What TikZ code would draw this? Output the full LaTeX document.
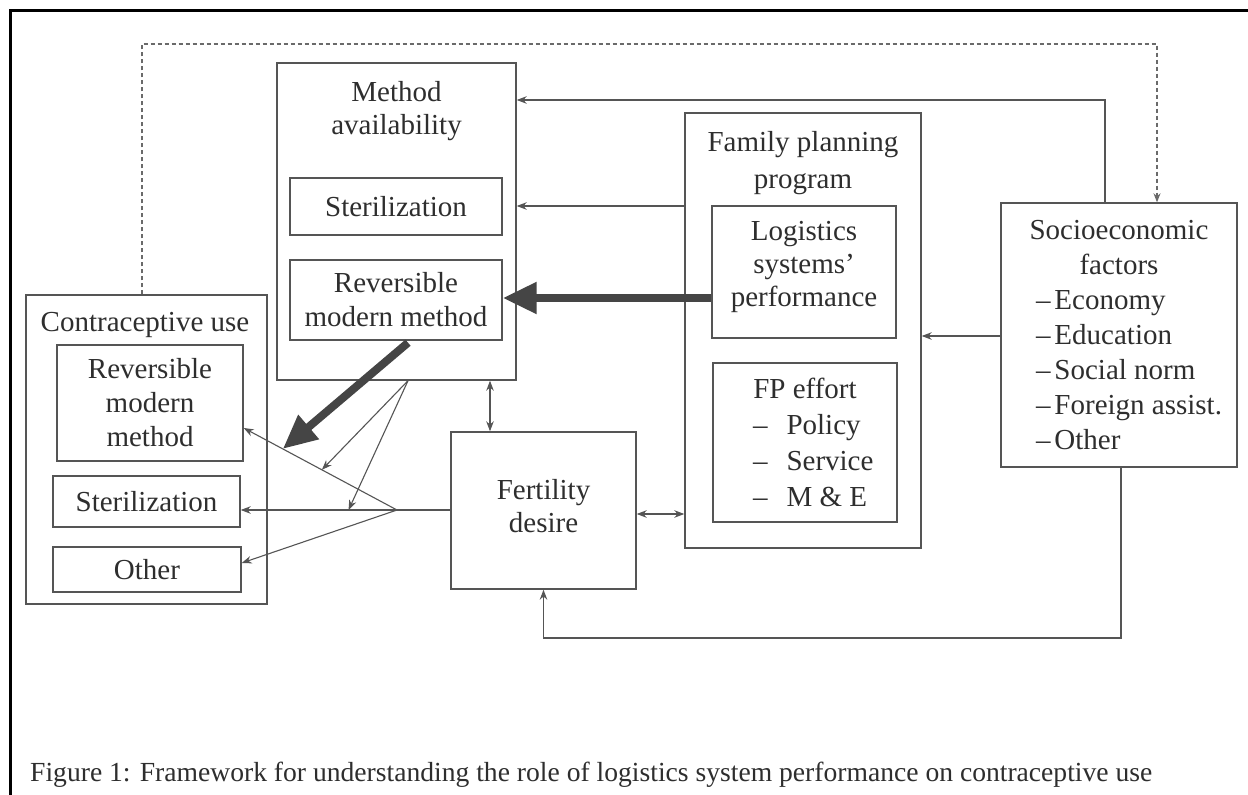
\documentclass[tikz,border=0pt]{standalone}
\usepackage{fontspec}
\setmainfont{Liberation Serif}
\usetikzlibrary{arrows.meta,calc}
\definecolor{boxc}{HTML}{555555}
\definecolor{txtc}{HTML}{2E2E2E}
\definecolor{thickc}{HTML}{454545}
\definecolor{dotc}{HTML}{6A6A6A}
\begin{document}
\begin{tikzpicture}[x=1pt,y=-1pt,
  box/.style={draw=boxc, line width=1.4pt, inner sep=0pt},
  txt/.style={align=center, text=txtc, font=\fontsize{29}{34}\selectfont, inner sep=0pt},
  arr/.style={draw=boxc, line width=1.1pt, -{Stealth[length=10pt,width=7.5pt]}},
  darr/.style={draw=boxc, line width=1.1pt, {Stealth[length=10pt,width=7.5pt]}-{Stealth[length=10pt,width=7.5pt]}},
  ln/.style={draw=boxc, line width=1.1pt},
  thickarr/.style={draw=thickc, line width=8pt, -{Triangle[length=34pt,width=30pt]}},
  dotl/.style={draw=dotc, line width=1.1pt, dash pattern=on 4pt off 3pt, -{Stealth[length=9pt,width=7pt]}},
  captxt/.style={text=txtc, font=\fontsize{27.6}{30}\selectfont, inner sep=0pt}
]
\useasboundingbox (0,0) rectangle (1248,795);
\fill[white] (0,0) rectangle (1248,795);
\draw[line width=3pt, black] (10,795) -- (10,10) -- (1248,10);

% Method availability
\node[box, minimum width=239pt, minimum height=317pt] (mav) at (396.5,221.5) {};
\node[txt, font=\fontsize{29}{33}\selectfont] (mavt) at (396.5,111) {Method\\availability};
\node[box, txt, minimum width=212pt, minimum height=57pt] (mst) at (396,206.5) {Sterilization};
\node[box, txt, minimum width=212pt, minimum height=80pt] (mrm) at (396,300) {Reversible\\modern method};

% Family planning program
\node[box, minimum width=236pt, minimum height=435pt] (fp) at (803,330.5) {};
\node[txt, font=\fontsize{29}{37}\selectfont] (fpt) at (803,163.5) {Family planning\\program};
\node[box, minimum width=184pt, minimum height=132pt] (lsp) at (804,272) {};
\node[txt, font=\fontsize{29}{33}\selectfont] (lspt) at (804,267) {Logistics\\systems’\\performance};
\node[box, txt, minimum width=184pt, minimum height=159pt, font=\fontsize{29}{36}\selectfont] (fpe) at (805,442.5)
  {FP effort\\ \makebox[104pt][l]{\textendash\hspace{19pt}Policy}\\ \makebox[104pt][l]{\textendash\hspace{19pt}Service}\\ \makebox[104pt][l]{\textendash\hspace{19pt}M \& E}};

% Socioeconomic factors
\node[box, txt, minimum width=236pt, minimum height=264pt, font=\fontsize{29}{35}\selectfont] (se) at (1119,335)
  {Socioeconomic\\factors\\
   \makebox[166pt][l]{\textendash\hspace{4pt}Economy}\\
   \makebox[166pt][l]{\textendash\hspace{4pt}Education}\\
   \makebox[166pt][l]{\textendash\hspace{4pt}Social norm}\\
   \makebox[166pt][l]{\textendash\hspace{4pt}Foreign assist.}\\
   \makebox[166pt][l]{\textendash\hspace{4pt}Other}};

% Fertility desire
\node[box, minimum width=185pt, minimum height=157pt] (fd) at (543.5,510.5) {};
\node[txt, font=\fontsize{29}{33}\selectfont] (fdt) at (543.5,506) {Fertility\\desire};

% Contraceptive use
\node[box, minimum width=241pt, minimum height=309pt] (cu) at (146.5,449.5) {};
\node[txt] (cut) at (145,325) {Contraceptive use};
\node[box, txt, minimum width=186pt, minimum height=116pt] (crm) at (150,403) {Reversible\\modern\\method};
\node[box, txt, minimum width=187pt, minimum height=51pt] (cst) at (146.5,501.5) {Sterilization};
\node[box, txt, minimum width=188pt, minimum height=45pt] (cot) at (147,569.5) {Other};

% Caption
\node[captxt, anchor=base west] (cap) at (30,781) {Figure 1: Framework for understanding the role of logistics system performance on contraceptive use};

% Connectors
\coordinate (dl) at (142,44);
\coordinate (dr) at (1157,44);
\draw[dotl] (cu.north -| dl) -- (dl) -- (dr) -- (se.north -| dr);

\coordinate (tp) at (1105,100);
\draw[arr] (se.north -| tp) -- (tp) -- (mav.east |- tp);

\coordinate (y206) at (0,206);
\draw[arr] (fp.west |- y206) -- (mav.east |- y206);

\coordinate (y336) at (0,336);
\draw[arr] (se.west |- y336) -- (fp.east |- y336);

\coordinate (y514) at (0,514);
\draw[darr] (fd.east |- y514) -- (fp.west |- y514);

\coordinate (x490) at (490,0);
\draw[darr] (mav.south -| x490) -- (fd.north -| x490);

\coordinate (bt) at (1121,638);
\draw[arr] (se.south -| bt) -- (bt) -- (fd.south |- bt) -- (fd.south);

\coordinate (apex) at (397,510);
\coordinate (tcrm) at (0,428);
\coordinate (tcot) at (0,563);
\coordinate (ecrm) at (crm.east |- tcrm);
\coordinate (ecst) at (cst.east |- apex);
\coordinate (ecot) at (cot.east |- tcot);
\draw[ln] (fd.west |- apex) -- (apex);
\draw[arr] (apex) -- (ecrm);
\draw[arr] (apex) -- (ecst);
\draw[arr] (apex) -- (ecot);

\coordinate (m1) at (408,0);
\draw[arr] (mav.south -| m1) -- ($(apex)!0.49!(ecrm)$);
\draw[arr] (mav.south -| m1) -- ($(apex)!0.31!(ecst)$);

\coordinate (y298) at (0,298);
\draw[thickarr] (lsp.west |- y298) -- (mrm.east |- y298);
\draw[thickarr] ($(mrm.south -| m1)+(0,2)$) -- ($(apex)!0.745!(ecrm)$);
\end{tikzpicture}
\end{document}
